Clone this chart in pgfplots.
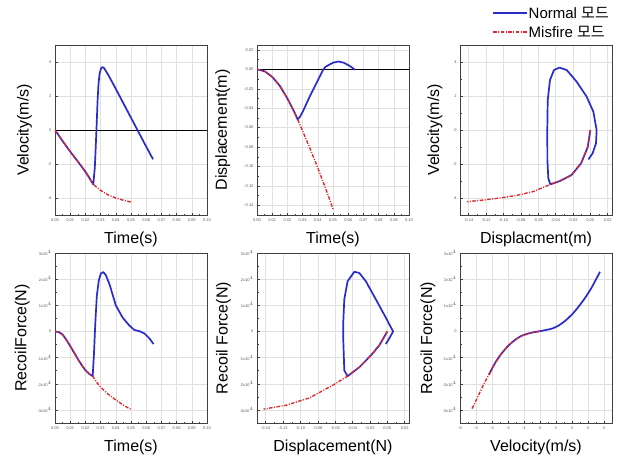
\documentclass[border=0pt]{standalone}
\usepackage{fontspec}
\setmainfont{Liberation Sans}
\newfontfamily\kr{Noto Sans CJK KR}
\usepackage{pgfplots}
\pgfplotsset{compat=1.18}
\definecolor{nblue}{HTML}{2B2BCC}
\definecolor{mred}{HTML}{E0282E}

\pgfplotsset{
  panel/.style={
    scale only axis, width=152pt, height=170pt,
    grid=major, grid style={black!12, line width=0.4pt},
    axis line style={black!75, line width=0.6pt},
    tick align=inside, tick pos=left,
    minor x tick num=1, minor y tick num=1,
    major tick length=2.5pt, minor tick length=1.5pt,
    tick style={black!75, line width=0.4pt},
    ticklabel style={font=\fontsize{4}{5}\selectfont, text=black!65},
    /pgf/number format/assume math mode=true,
    label style={font=\fontsize{16}{18}\selectfont},
    xlabel style={at={(axis description cs:0.5,-0.145)}, anchor=center},
    ylabel style={at={(axis description cs:-0.2,0.5)}, anchor=center},
  },
  twodec/.style={/pgf/number format/.cd, fixed, fixed zerofill, precision=2},
  nrm/.style={color=nblue, line width=1.7pt, line join=round},
  mis/.style={color=mred, line width=1.4pt, dash pattern=on 3.5pt off 1.5pt on 1pt off 1.5pt},
  force/.style={ymin=-3.5, ymax=3, ytick={-3,-2,-1,0,1,2,3},
    yticklabels={-3x10$^4$,-2x10$^4$,-1x10$^4$,0,1x10$^4$,2x10$^4$,3x10$^4$}},
  timex/.style={xmin=0, xmax=0.1, xtick={0,0.01,...,0.1}, xticklabel style={twodec}},
  dispx/.style={xmin=-0.15, xmax=0.025, xtick={-0.14,-0.12,...,0.021}, xticklabel style={twodec}},
}

\begin{document}
\begin{tikzpicture}
\path[use as bounding box] (0,0) rectangle (620pt,461pt);

% top left: velocity vs time
\begin{axis}[panel, at={(55pt,246pt)}, timex,
  ymin=-5, ymax=5, ytick={-4,-2,0,2,4},
  xlabel={Time(s)}, ylabel={Velocity(m/s)}]
\addplot[black, line width=0.7pt] coordinates {(0,0) (0.1,0)};
\addplot[nrm] coordinates {
 (0,0) (0.005,-0.65) (0.01,-1.27) (0.015,-1.85) (0.02,-2.45) (0.0235,-2.95) (0.0252,-3.2)
 (0.0262,-2.2) (0.0268,-1.0) (0.0274,0.3) (0.028,1.7) (0.0286,2.7) (0.0293,3.3) (0.0302,3.6)
 (0.031,3.7) (0.0322,3.65) (0.035,3.25) (0.04,2.42) (0.045,1.57) (0.05,0.72) (0.055,-0.13)
 (0.06,-0.98) (0.0645,-1.72)};
\addplot[mis] coordinates {
 (0,0) (0.005,-0.65) (0.01,-1.27) (0.015,-1.85) (0.02,-2.45) (0.0235,-2.95) (0.0252,-3.2)
 (0.03,-3.55) (0.035,-3.82) (0.04,-4.0) (0.045,-4.13) (0.05,-4.24)};
\end{axis}

% top middle: displacement vs time
\begin{axis}[panel, at={(257pt,246pt)}, timex,
  ymin=-0.15, ymax=0.025, ytick={-0.14,-0.12,...,0.021}, yticklabel style={twodec},
  xlabel={Time(s)}, ylabel={Displacement(m)},
  ylabel style={at={(axis description cs:-0.225,0.5)}}]
\addplot[black, line width=0.7pt] coordinates {(0,0) (0.1,0)};
\addplot[nrm] coordinates {
 (0,0) (0.005,-0.002) (0.01,-0.0078) (0.015,-0.017) (0.02,-0.03) (0.025,-0.0455) (0.0267,-0.0515)
 (0.028,-0.0495) (0.03,-0.044) (0.035,-0.027) (0.04,-0.0115) (0.0433,-0.001) (0.045,0.0025)
 (0.05,0.0068) (0.0535,0.008) (0.057,0.0068) (0.061,0.0035) (0.0645,-0.0005)};
\addplot[mis] coordinates {
 (0,0) (0.005,-0.002) (0.01,-0.0078) (0.015,-0.017) (0.02,-0.03) (0.025,-0.0455) (0.0267,-0.0515)
 (0.03,-0.0635) (0.035,-0.082) (0.04,-0.1015) (0.045,-0.122) (0.05,-0.1438)};
\end{axis}

% top right: velocity vs displacement
\begin{axis}[panel, at={(460pt,246pt)}, dispx,
  ymin=-5, ymax=5, ytick={-4,-2,0,2,4},
  xlabel={Displacment(m)}, ylabel={Velocity(m/s)},
  ylabel style={at={(axis description cs:-0.165,0.5)}}]
\addplot[nrm] coordinates {
 (0,0) (-0.0029,-1) (-0.0106,-1.96) (-0.0216,-2.65) (-0.035,-3.0) (-0.046,-3.2)
 (-0.0483,-2.85) (-0.0494,-1.76) (-0.0495,0) (-0.049,1.76) (-0.0464,2.94) (-0.0418,3.53)
 (-0.0356,3.67) (-0.0272,3.53) (-0.0157,2.84) (-0.0042,1.96) (0.0035,1.08) (0.0073,0)
 (0.0066,-0.78) (0.0027,-1.37) (-0.0022,-1.73)};
\addplot[mis] coordinates {
 (0,0) (-0.0029,-1) (-0.0106,-1.96) (-0.0216,-2.65) (-0.035,-3.0) (-0.046,-3.2)
 (-0.0655,-3.62) (-0.085,-3.85) (-0.104,-4.0) (-0.123,-4.12) (-0.142,-4.22)};
\end{axis}

% legend (own small hidden axis)
\begin{axis}[at={(493pt,429pt)}, anchor=south west, scale only axis,
  width=34pt, height=19pt, hide axis, clip=false,
  xmin=0, xmax=1, ymin=0, ymax=1]
\addplot[color=nblue, line width=1.4pt] coordinates {(0,1) (1,1)};
\addplot[mis, line width=1.2pt] coordinates {(0,0) (1,0)};
\node[anchor=west, inner sep=1.5pt, font=\fontsize{15}{17}\selectfont] at (axis cs:1,1) {Normal {\kr 모드}};
\node[anchor=west, inner sep=1.5pt, font=\fontsize{15}{17}\selectfont] at (axis cs:1,0) {Misfire {\kr 모드}};
\end{axis}

% bottom left: recoil force vs time
\begin{axis}[panel, at={(55pt,38pt)}, timex, force,
  xlabel={Time(s)}, ylabel={RecoilForce(N)},
  ylabel style={at={(axis description cs:-0.215,0.5)}}]
\addplot[nrm] coordinates {
 (0,0) (0.0025,-0.02) (0.005,-0.12) (0.0075,-0.32) (0.01,-0.56) (0.0125,-0.8) (0.015,-1.05)
 (0.0175,-1.28) (0.02,-1.48) (0.0225,-1.62) (0.0248,-1.71) (0.0256,-0.9) (0.0265,0.3)
 (0.0275,1.35) (0.0288,1.95) (0.0302,2.22) (0.0318,2.27) (0.0335,2.15) (0.036,1.78)
 (0.04,1.0) (0.0445,0.53) (0.049,0.22) (0.0522,0.06) (0.0556,0.01) (0.0589,-0.08)
 (0.0622,-0.27) (0.0648,-0.48)};
\addplot[mis] coordinates {
 (0,0) (0.0025,-0.02) (0.005,-0.12) (0.0075,-0.32) (0.01,-0.56) (0.0125,-0.8) (0.015,-1.05)
 (0.0175,-1.28) (0.02,-1.48) (0.0225,-1.62) (0.0248,-1.71) (0.0275,-1.95) (0.03,-2.13)
 (0.035,-2.4) (0.04,-2.62) (0.045,-2.82) (0.05,-2.98)};
\end{axis}

% bottom middle: recoil force vs displacement
\begin{axis}[panel, at={(257pt,38pt)}, dispx, force,
  xlabel={Displacement(N)}, ylabel={Recoil Force(N)},
  ylabel style={at={(axis description cs:-0.22,0.5)}}]
\addplot[nrm] coordinates {
 (0,0) (-0.0094,-0.54) (-0.0189,-0.92) (-0.0323,-1.37) (-0.0457,-1.71) (-0.0495,-1.49)
 (-0.0507,-0.29) (-0.0507,0.34) (-0.0495,1.23) (-0.0457,1.92) (-0.038,2.28) (-0.0323,2.24)
 (-0.0247,1.92) (-0.0132,1.23) (-0.0017,0.53) (0.0067,0) (0.0029,-0.23) (-0.0017,-0.48)};
\addplot[mis] coordinates {
 (0,0) (-0.0094,-0.54) (-0.0189,-0.92) (-0.0323,-1.37) (-0.0457,-1.71) (-0.0629,-2.06)
 (-0.0896,-2.54) (-0.1164,-2.82) (-0.1424,-2.97)};
\end{axis}

% bottom right: recoil force vs velocity
\begin{axis}[panel, at={(460pt,38pt)}, force,
  xmin=-5, xmax=4.5, xtick={-5,-4,...,4},
  xlabel={Velocity(m/s)}, ylabel={Recoil Force(N)},
  ylabel style={at={(axis description cs:-0.21,0.5)}}]
\addplot[nrm, smooth, tension=0.5] coordinates {
 (-3.2,-1.66) (-2.8,-1.2) (-2.4,-0.84) (-2.0,-0.56) (-1.6,-0.34) (-1.2,-0.18)
 (-0.8,-0.09) (-0.4,-0.03) (0,0.01) (0.4,0.06) (0.8,0.12) (1.2,0.24) (1.6,0.42)
 (2.0,0.65) (2.4,0.94) (2.8,1.27) (3.2,1.65) (3.5,1.99) (3.75,2.28)};
\addplot[mis, smooth, tension=0.5] coordinates {
 (0,0.01) (-0.4,-0.03) (-0.8,-0.09) (-1.2,-0.18) (-1.6,-0.34) (-2.0,-0.56) (-2.4,-0.84)
 (-2.8,-1.2) (-3.2,-1.66) (-3.5,-2.0) (-3.8,-2.38) (-4.05,-2.7) (-4.26,-2.97)};
\end{axis}
\end{tikzpicture}
\end{document}
